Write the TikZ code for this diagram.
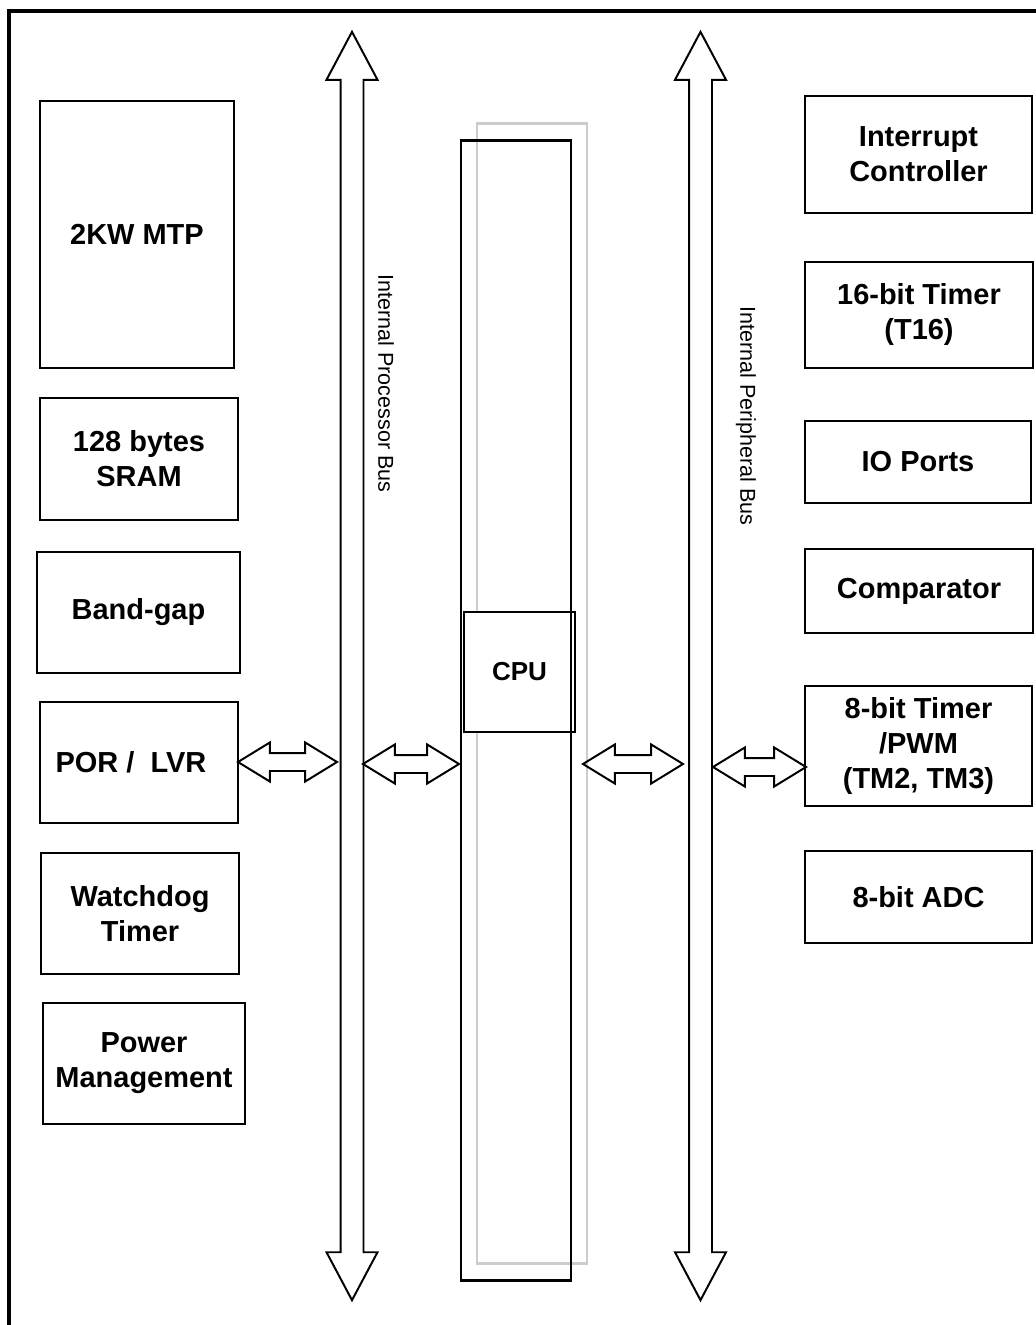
\documentclass[tikz,border=0pt]{standalone}
\usepackage{fontspec}
\setmainfont{Liberation Sans}
\usetikzlibrary{shapes.arrows}

\begin{document}
\begin{tikzpicture}[x=0.025cm, y=-0.025cm]
\tikzset{blk/.style={draw, line width=2pt, align=center, inner sep=0pt,
    font=\fontsize{20.6}{24.9}\selectfont\bfseries},
  bus/.style={draw, double arrow, line width=1.4pt, rotate=90, inner xsep=0pt, inner ysep=0.2625cm,
    minimum height=31.7cm, minimum width=1.225cm,
    double arrow head extend=0.35cm, double arrow tip angle=56},
  link/.style={draw, double arrow, line width=1.4pt, inner xsep=0pt, inner ysep=0.2cm,
    minimum width=0.925cm, double arrow head extend=0.2625cm, double arrow tip angle=63},
  buslabel/.style={rotate=-90, inner sep=0pt, font=\fontsize{15.3}{18}\selectfont}}
\useasboundingbox (0,0) rectangle (1036,1325);
\draw[line width=2.4pt] (9,1326) -- (9,11) -- (1037,11);

% memory and system blocks
\node[blk, minimum width=4.85cm, minimum height=6.675cm] (mtp) at (137,234.5) {2KW MTP};
\node[blk, minimum width=4.95cm, minimum height=3.05cm] (sram) at (139,459) {128 bytes\\SRAM};
\node[blk, minimum width=5.075cm, minimum height=3.025cm] (bgap) at (138.5,612.5) {Band-gap};
\node[blk, minimum width=4.95cm, minimum height=3.025cm] (por) at (139,762.5) {POR /\ \ LVR\kern0.4cm};
\node[blk, minimum width=4.95cm, minimum height=3.025cm] (wdt) at (140,913.5) {Watchdog\\Timer};
\node[blk, minimum width=5.05cm, minimum height=3.025cm] (pwr) at (144,1063.5) {Power\\Management};

% peripherals
\node[blk, minimum width=5.675cm, minimum height=2.925cm] (intc) at (918.5,154.5) {Interrupt\\Controller};
\node[blk, minimum width=5.7cm, minimum height=2.65cm] (t16) at (919,315) {16-bit Timer\\(T16)};
\node[blk, minimum width=5.65cm, minimum height=2.05cm] (io) at (918,462) {IO Ports};
\node[blk, minimum width=5.7cm, minimum height=2.1cm] (cmp) at (919,591) {Comparator};
\node[blk, minimum width=5.675cm, minimum height=3cm] (pwm) at (918.5,746) {8-bit Timer\\/PWM\\(TM2, TM3)};
\node[blk, minimum width=5.675cm, minimum height=2.3cm] (adc) at (918.5,897) {8-bit ADC};

% cpu column
\node[draw=gray!40, line width=2pt, minimum width=2.75cm, minimum height=28.475cm] (shadow) at (532,693.5) {};
\node[blk, fill=white, minimum width=2.775cm, minimum height=3cm,
  font=\fontsize{18.5}{22}\selectfont\bfseries] (cpu) at (519.5,672) {CPU};
\node[draw, line width=2pt, minimum width=2.75cm, minimum height=28.475cm] (core) at (516,710.5) {};

% buses
\node[bus] (pbus) at (352,666) {};
\node[bus] (perbus) at (700.5,666) {};
\node[buslabel] (plabel) at (386,383.5) {Internal Processor Bus};
\node[buslabel] (perlabel) at (746,416) {Internal Peripheral Bus};

\node[link, minimum height=2.475cm] (l1) at (287.5,762) {};
\node[link, minimum height=2.4cm] (l2) at (411,764) {};
\node[link, minimum height=2.5cm] (l3) at (633,764) {};
\node[link, minimum height=2.325cm] (l4) at (759.5,767) {};
\end{tikzpicture}
\end{document}
